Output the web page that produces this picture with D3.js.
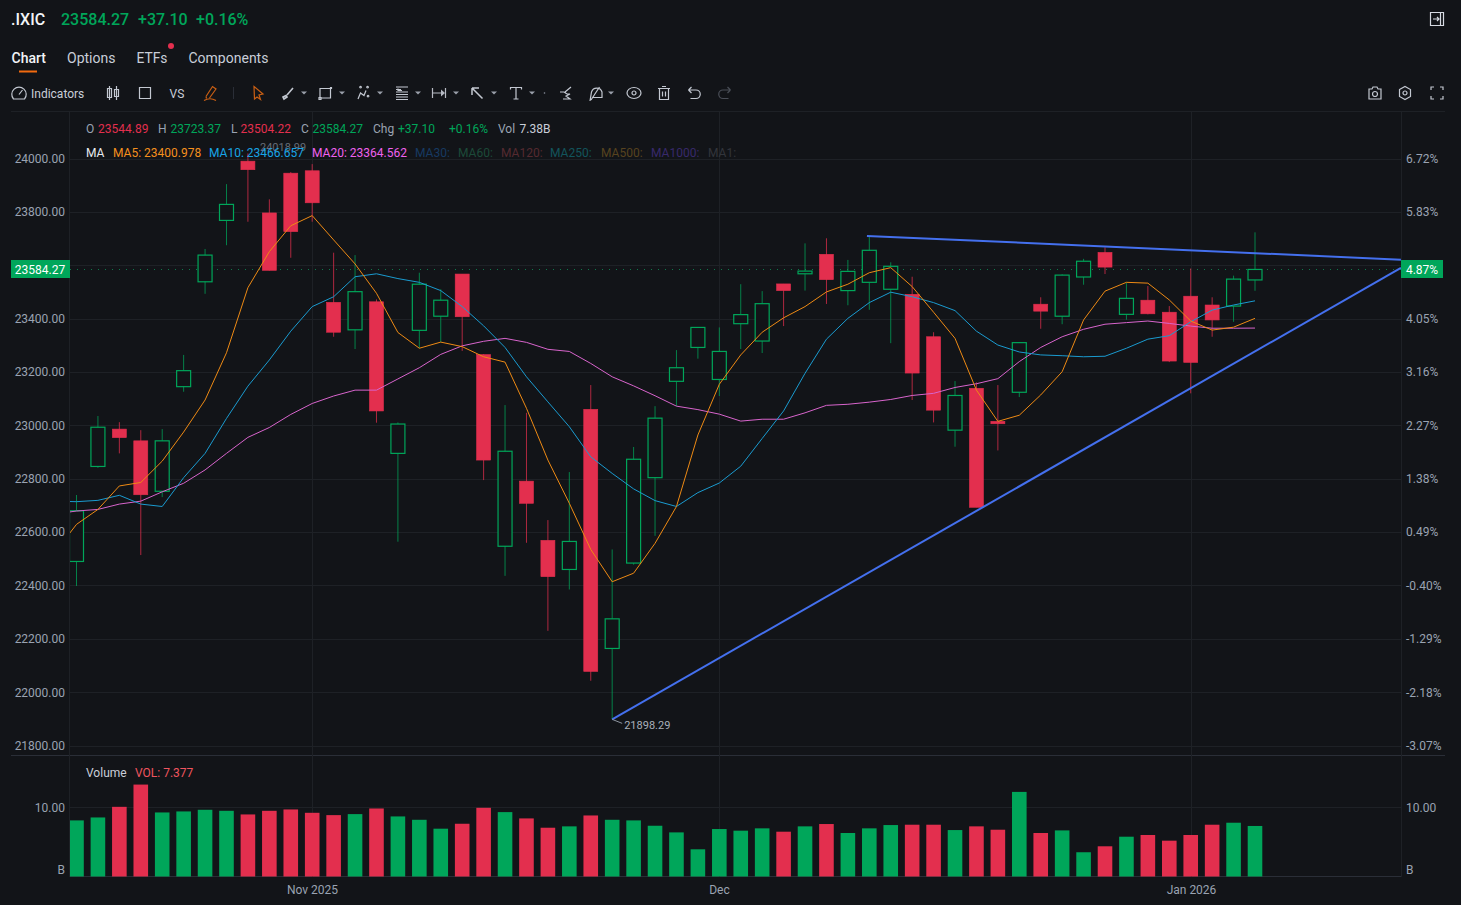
<!DOCTYPE html>
<html>
<head>
<meta charset="utf-8">
<title>.IXIC</title>
<script src="https://cdn.jsdelivr.net/npm/d3@7/dist/d3.min.js"></script>
<style>
  html, body { margin: 0; padding: 0; background: #121418; overflow: hidden; }
  svg { display: block; }
  text { font-family: Roboto, "Noto Sans", sans-serif; }
</style>
</head>
<body>
<svg id="chart" width="1461" height="905"></svg>
<script>
// daily sessions, Oct 17 2025 -> Jan 7 2026
const dates = [
  '2025-10-17','2025-10-20','2025-10-21','2025-10-22','2025-10-23','2025-10-24','2025-10-27','2025-10-28','2025-10-29','2025-10-30','2025-10-31',
  '2025-11-03','2025-11-04','2025-11-05','2025-11-06','2025-11-07','2025-11-10','2025-11-11','2025-11-12','2025-11-13','2025-11-14','2025-11-17','2025-11-18','2025-11-19','2025-11-20','2025-11-21','2025-11-24','2025-11-25','2025-11-26','2025-11-28',
  '2025-12-01','2025-12-02','2025-12-03','2025-12-04','2025-12-05','2025-12-08','2025-12-09','2025-12-10','2025-12-11','2025-12-12','2025-12-15','2025-12-16','2025-12-17','2025-12-18','2025-12-19','2025-12-22','2025-12-23','2025-12-24','2025-12-26','2025-12-29','2025-12-30','2025-12-31',
  '2026-01-02','2026-01-05','2026-01-06','2026-01-07'
];
const opens = [
  22490,22846,22986,22942,22753,23145,23538,23768,23990,23796,23945,23954,23461,23358,23463,22895,23356,23409,23567,23265,22547,22791,22569,22460,
  23060,22164,22484,22804,23165,23292,23172,23381,23316,23530,23568,23641,23505,23536,23510,23491,23332,22982,23139,23015,23124,23454,23409,23556,
  23648,23416,23469,23424,23484,23451,23447,23544.89
];
const closes = [
  22680,22993,22954,22740,22942,23205,23638,23828,23958,23581,23726,23834,23349,23501,23054,23005,23529,23469,23407,22870,22903,22708,22433,22565,
  22078,22275,22873,23027,23216,23367,23277,23415,23456,23505,23578,23546,23577,23656,23596,23196,23057,23112,22693,23006,23310,23428,23563,23615,
  23593,23476,23418,23241,23236,23395,23548,23584.27
];
const highs = [
  22739,23035,23012,22982,22986,23264,23661,23904,24018.99,23847,23949,23979,23647,23638,23472,23011,23572,23510,23567,23267,23076,23047,22645,22825,
  23151,22535,22919,23072,23282,23367,23367,23529,23503,23530,23682,23701,23620,23707,23611,23557,23349,23166,23161,23151,23312,23480,23566,23624,
  23667,23535,23522,23447,23588,23480,23561,23723.37
];
const lows = [
  22398,22841,22895,22514,22731,23126,23493,23675,23763,23580,23628,23763,23332,23286,23010,22564,23289,23312,23279,22795,22436,22560,22230,22385,
  22043,21898.29,22478,22586,23072,23250,23110,23286,23271,23372,23505,23455,23450,23433,23308,23095,23011,22920,22693,22906,23106,23362,23379,23527,
  23567,23396,23416,23237,23120,23332,23388,23504.22
];
const volumes = [
  8.19,8.62,10.17,13.42,9.35,9.50,9.74,9.59,9.06,9.59,9.79,9.30,8.96,9.11,9.93,8.77,8.28,6.98,7.70,10.03,9.40,8.48,7.12,7.32,
  8.91,8.28,8.19,7.41,6.44,3.97,6.93,6.69,7.03,6.54,7.32,7.66,6.35,7.03,7.51,7.56,7.56,6.78,7.32,6.83,12.35,6.35,6.73,3.54,
  4.41,5.81,6.06,5.23,6.06,7.56,7.85,7.377
];
// moving averages start one session before the visible window
const ma5 = [
  22525,22629,22685,22773,22786,22866,22975,23095,23272,23516,23651,23748,23786,23695,23605,23495,23348,23289,23312,23295,23257,23237,23064,22870,22708,
  22535,22414,22446,22558,22696,22964,23154,23264,23349,23403,23445,23500,23529,23572,23591,23520,23424,23326,23132,23015,23038,23114,23201,23395,
  23503,23536,23533,23470,23391,23357,23368,23400.978
];
const ma10 = [
  22716,22714,22719,22738,22705,22696,22804,22895,23026,23147,23245,23353,23445,23482,23557,23568,23550,23536,23505,23445,23373,23292,23182,23088,22995,
  22882,22820,22762,22718,22696,22748,22784,22847,22951,23054,23195,23323,23401,23460,23499,23482,23460,23430,23353,23301,23275,23264,23261,23257,
  23259,23289,23323,23336,23388,23432,23451,23466.657
];
const ma20 = [
  22668,22679,22685,22705,22716,22751,22783,22833,22895,22955,22992,23041,23082,23110,23132,23132,23174,23216,23266,23298,23315,23326,23311,23285,23277,
  23232,23182,23148,23111,23072,23059,23042,23016,23023,23023,23047,23075,23079,23087,23097,23112,23120,23142,23156,23175,23239,23292,23332,23360,
  23379,23385,23391,23382,23372,23364,23364,23364.562
];
const priceTicks = [24000,23800,23600,23400,23200,23000,22800,22600,22400,22200,22000,21800];
// 23600 sits behind the last price tags on both sides
const priceLabels = ['24000.00','23800.00','','23400.00','23200.00','23000.00','22800.00','22600.00','22400.00','22200.00','22000.00','21800.00'];
const percentLabels = ['6.72%','5.83%','','4.05%','3.16%','2.27%','1.38%','0.49%','-0.40%','-1.29%','-2.18%','-3.07%'];
const monthTicks = [
  { date: '2025-11-03', label: 'Nov 2025' },
  { date: '2025-12-01', label: 'Dec' },
  { date: '2026-01-02', label: 'Jan 2026' }
];
// hand drawn trend lines: [session index, price]
const trendTop = [[36.89,23710],[61.81,23621]];
const trendRising = [[25,21898.29],[61.81,23590]];
const lastClose = 23584.27;

const GREEN = '#00a65a', RED = '#e32f4e', GRID = '#1e2126', EDGE = '#2a2e37', AXIS = '#9aa3b2', TEXT = '#c9ced8';
const left = 70, right = 1401;

const svg = d3.select('#chart');

const x = d3.scaleLinear().domain([0, 55]).range([76.5, 1255]);
const y = d3.scaleLinear().domain([21800, 24000]).range([745.6, 158.5]);
const yVol = d3.scaleLinear().domain([0, 10]).range([876.5, 808]);

svg.append('defs').append('clipPath').attr('id', 'plotClip')
  .append('rect').attr('x', left).attr('y', 111).attr('width', right - left).attr('height', 766);

// frame lines
function hline(y0, x0, x1, color) {
  svg.append('line').attr('x1', x0).attr('x2', x1).attr('y1', y0).attr('y2', y0).attr('stroke', color);
}
hline(111.5, 11, 1445, GRID);
hline(755.5, 11, 1445, EDGE);
hline(876.5, left, right, EDGE);
[left - 0.5, right + 0.5].forEach(vx => {
  svg.append('line').attr('x1', vx).attr('x2', vx).attr('y1', 111).attr('y2', 877).attr('stroke', GRID);
});

// month grid
monthTicks.forEach(t => {
  const mx = Math.round(x(dates.indexOf(t.date))) + 0.5;
  svg.append('line').attr('x1', mx).attr('x2', mx).attr('y1', 111).attr('y2', 877).attr('stroke', GRID);
  svg.append('text').attr('x', mx).attr('y', 893.5).attr('text-anchor', 'middle')
    .attr('font-size', 12).attr('fill', AXIS).text(t.label);
});

// price axes
const axisL = svg.append('g').attr('transform', `translate(65,0)`)
  .call(d3.axisLeft(y).tickValues(priceTicks).tickSize(0).tickPadding(0).tickFormat((d, i) => priceLabels[i]));
const axisR = svg.append('g').attr('transform', `translate(1406,0)`)
  .call(d3.axisRight(y).tickValues(priceTicks).tickSize(0).tickPadding(0).tickFormat((d, i) => percentLabels[i]));
[axisL, axisR].forEach(g => {
  g.select('.domain').remove();
  g.selectAll('text').attr('font-size', 12).attr('fill', AXIS).style('font-family', 'Roboto');
});
svg.append('g').selectAll('line').data(priceTicks).join('line')
  .attr('x1', left).attr('x2', right)
  .attr('y1', d => Math.round(y(d)) + 0.5).attr('y2', d => Math.round(y(d)) + 0.5)
  .attr('stroke', GRID);

// volume axes
const volL = svg.append('g').attr('transform', `translate(65,0)`)
  .call(d3.axisLeft(yVol).tickValues([10]).tickSize(0).tickPadding(0).tickFormat(d3.format('.2f')));
const volR = svg.append('g').attr('transform', `translate(1406,0)`)
  .call(d3.axisRight(yVol).tickValues([10]).tickSize(0).tickPadding(0).tickFormat(d3.format('.2f')));
[volL, volR].forEach(g => {
  g.select('.domain').remove();
  g.selectAll('text').attr('font-size', 12).attr('fill', AXIS).style('font-family', 'Roboto');
});
hline(807.5, left, right, GRID);
svg.append('text').attr('x', 65).attr('y', 874).attr('text-anchor', 'end').attr('font-size', 12).attr('fill', AXIS).text('B');
svg.append('text').attr('x', 1406).attr('y', 874).attr('font-size', 12).attr('fill', AXIS).text('B');

const plot = svg.append('g').attr('clip-path', 'url(#plotClip)');

// last price dotted line
plot.append('line').attr('x1', left).attr('x2', right)
  .attr('y1', Math.round(y(lastClose)) + 0.5).attr('y2', Math.round(y(lastClose)) + 0.5)
  .attr('stroke', '#0f7a4c').attr('stroke-dasharray', '1 6');

// volume bars
plot.append('g').selectAll('rect').data(volumes).join('rect')
  .attr('x', (d, i) => x(i) - 7.3).attr('width', 14.6)
  .attr('y', d => yVol(d)).attr('height', d => yVol(0) - yVol(d))
  .attr('fill', (d, i) => closes[i] >= opens[i] ? GREEN : RED);

// candles
const candles = plot.append('g').selectAll('g').data(dates).join('g');
candles.append('line')
  .attr('x1', (d, i) => x(i)).attr('x2', (d, i) => x(i))
  .attr('y1', (d, i) => y(highs[i])).attr('y2', (d, i) => y(lows[i]))
  .attr('stroke', (d, i) => closes[i] >= opens[i] ? GREEN : RED)
  .attr('stroke-opacity', 0.75).attr('stroke-width', 1);
candles.append('rect')
  .attr('x', (d, i) => x(i) - 7).attr('width', 14)
  .attr('y', (d, i) => y(Math.max(opens[i], closes[i])))
  .attr('height', (d, i) => Math.abs(y(opens[i]) - y(closes[i])))
  .attr('fill', (d, i) => closes[i] >= opens[i] ? '#121418' : RED)
  .attr('stroke', (d, i) => closes[i] >= opens[i] ? GREEN : RED)
  .attr('stroke-width', (d, i) => closes[i] >= opens[i] ? 1.2 : 0.6);

// moving averages
const maLine = d3.line().x((d, i) => x(i - 1)).y(d => y(d));
[[ma20, '#d864cc'], [ma10, '#1a9bd0'], [ma5, '#ee8a14']].forEach(([vals, color]) => {
  plot.append('path').attr('d', maLine(vals)).attr('fill', 'none').attr('stroke', color).attr('stroke-width', 1);
});

// trend lines
const trendLine = d3.line().x(d => x(d[0])).y(d => y(d[1]));
[trendTop, trendRising].forEach(t => {
  plot.append('path').attr('d', trendLine(t)).attr('fill', 'none').attr('stroke', '#4470ee').attr('stroke-width', 2);
});

// high / low callouts
svg.append('line').attr('x1', x(25)).attr('x2', x(25) + 10).attr('y1', y(21898.29)).attr('y2', y(21898.29) + 4).attr('stroke', '#8d94a0');
svg.append('text').attr('x', x(25) + 12).attr('y', y(21898.29) + 9.5).attr('font-size', 11).attr('fill', '#a9afba').text('21898.29');
svg.append('text').attr('x', 260).attr('y', 151).attr('font-size', 11).attr('fill', '#666c77').text('24018.99');

// last price tags
svg.append('rect').attr('x', 11).attr('y', 260).attr('width', 59).attr('height', 18).attr('fill', GREEN);
svg.append('text').attr('x', 40).attr('y', 273.5).attr('text-anchor', 'middle').attr('font-size', 12).attr('fill', '#fff').text('23584.27');
svg.append('rect').attr('x', 1401).attr('y', 260).attr('width', 42).attr('height', 18).attr('fill', GREEN);
svg.append('text').attr('x', 1422).attr('y', 273.5).attr('text-anchor', 'middle').attr('font-size', 12).attr('fill', '#fff').text('4.87%');

// small helper for placed text runs
function label(tx, ty, str, color, size, weight) {
  svg.append('text').attr('x', tx).attr('y', ty).attr('font-size', size || 12)
    .attr('font-weight', weight || 400).attr('fill', color).text(str);
}

// quote header
label(11, 25, '.IXIC', '#f2f4f7', 16, 500);
label(61, 25, '23584.27', GREEN, 16, 500);
label(138, 25, '+37.10', GREEN, 16, 500);
label(196, 25, '+0.16%', GREEN, 16, 500);

// tabs
label(11.5, 63, 'Chart', '#f2f4f7', 14, 500);
label(67, 63, 'Options', TEXT, 14);
label(136.5, 63, 'ETFs', TEXT, 13.8);
label(188.5, 63, 'Components', TEXT, 14);
svg.append('circle').attr('cx', 171).attr('cy', 46).attr('r', 3).attr('fill', RED);
svg.append('rect').attr('x', 19).attr('y', 70.5).attr('width', 18).attr('height', 2).attr('fill', '#f26a0f');

// OHLC row
label(86, 133, 'O', AXIS);
label(98, 133, '23544.89', RED);
label(158, 133, 'H', AXIS);
label(170.5, 133, '23723.37', GREEN);
label(231, 133, 'L', AXIS);
label(240.5, 133, '23504.22', RED);
label(301, 133, 'C', AXIS);
label(312.5, 133, '23584.27', GREEN);
label(373, 133, 'Chg', AXIS);
label(398, 133, '+37.10', GREEN);
label(449, 133, '+0.16%', GREEN);
label(498, 133, 'Vol', AXIS);
label(519.5, 133, '7.38B', TEXT);

// MA row
label(86, 157, 'MA', '#e6e9ee');
label(113, 157, 'MA5: 23400.978', '#f5901e');
label(209, 157, 'MA10: 23466.657', '#18a5e6');
label(312, 157, 'MA20: 23364.562', '#ee62ee');
label(415, 157, 'MA30:', '#173a62');
label(458, 157, 'MA60:', '#1c4a39');
label(501, 157, 'MA120:', '#552a30');
label(550, 157, 'MA250:', '#12545c');
label(601, 157, 'MA500:', '#57431f');
label(651, 157, 'MA1000:', '#38296b');
label(708, 157, 'MA1:', '#32353b');

// volume legend
label(86, 777, 'Volume', TEXT);
label(135, 777, 'VOL: 7.377', '#f0555f');

// toolbar
label(31, 97.5, 'Indicators', TEXT);
label(169.5, 97.5, 'VS', TEXT);

function icon(cx, cy, d, color, width) {
  svg.append('path').attr('transform', `translate(${cx},${cy})`).attr('d', d)
    .attr('fill', 'none').attr('stroke', color || '#c3c8d1').attr('stroke-width', width || 1.2);
}
function caret(cx) {
  svg.append('path').attr('transform', `translate(${cx},93)`).attr('d', 'M-3,-1.5L3,-1.5L0,1.5Z').attr('fill', '#9aa0aa');
}
icon(19, 93, 'M-5.5,6A7.2,7.2 0 1 1 5.5,6Z M0,1.5L3.5,-3');
icon(113, 93, 'M-3.5,-7V7M-5.5,-4.5H-1.5V4.5H-5.5Z M3.5,-7V7M1.5,-3.5H5.5V3.5H1.5Z');
icon(145, 93, 'M-5.5,-5.5H5.5V5.5H-5.5Z');
icon(210, 93, 'M-4,3.5L2.5,-6.5L6,-4L-0.5,5 M-4,3.5L-3.5,5.5M-6,7.5Q0,4 6,7.5', '#c95f14');
svg.append('line').attr('x1', 233.5).attr('x2', 233.5).attr('y1', 87).attr('y2', 99).attr('stroke', '#2a2e37');
icon(258, 93, 'M-4,-6.5L5,1L1,2L2.5,6.5L-1,4L-3.5,6Z', '#c95f14');
icon(288, 93, 'M-5,4L-2,2.5L-1,4L-4,6Z M-1,2L5,-5', '#c3c8d1', 1.6);
caret(304);
icon(325, 93, 'M-5,-4.5H5.5V-5.5H6.5V-4.5H5.5V5H-5V-4.5Z M-6,4.5H-4V6.5H-6Z');
caret(342);
icon(363, 93, 'M-5,6L-2.5,0L1,2.5L3,-2.5M-2.5,-5A.8,.8 0 1 1 -2.4,-5M4.5,-5A.8,.8 0 1 1 4.6,-5M5,4A.8,.8 0 1 1 5.1,4');
caret(380);
icon(402, 93, 'M-6,-6H6M-6,-3.5H-1M-6,-1H6M-6,1.5H6M-6,4H6M-6,6.5H6M-4,-4.5V-2.5H0');
caret(418);
icon(439, 93, 'M-6.5,-5V5M6.5,-5V5M-6.5,0H3', '#b6bac3');
svg.append('path').attr('transform', 'translate(439,93)').attr('d', 'M2,-3.5L6,0L2,3.5Z').attr('fill', '#b6bac3');
caret(456);
icon(477, 93, 'M-5,-5L5.5,5.5M-5,-5H2M-5,-5V2', '#c3c8d1', 1.5);
caret(494);
icon(516, 93, 'M-5.5,-3.5V-5.5H5.5V-3.5M0,-5.5V6M-2.5,6H2.5');
caret(532);
svg.append('circle').attr('cx', 544.5).attr('cy', 93).attr('r', 0.8).attr('fill', '#8d94a0');
icon(565, 93, 'M-5,-1L-1,-1L2,1H5L1,3L5,6H-2M6,-6L0,-1');
icon(596, 93, 'M-6,8L-4.5,-1A5.5,5.5 0 0 1 6,-1V4.5H-3.5M-5,7L3.5,-6');
caret(611);
icon(634, 93, 'M-7,0A7,5.5 0 0 1 7,0A7,5.5 0 0 1 -7,0M2,0A2,2 0 1 1 -2,0A2,2 0 1 1 2,0');
icon(664, 93, 'M-6,-4.5H6M-4.5,-4.5V6.5H4.5V-4.5M-2,-6.5H2M-1.5,-1.5V3.5M1.5,-1.5V3.5');
icon(694, 93, 'M-5.5,-3H2A4,4 0 0 1 2,5.5H-3.5M-5.5,-3L-2.5,-6M-5.5,-3L-2.5,0');
icon(725, 93, 'M5.5,-3H-2A4,4 0 0 0 -2,5.5H3.5M5.5,-3L2.5,-6M5.5,-3L2.5,0', '#4a4e57');
icon(1375, 93, 'M-6,-4H-3L-2,-6H2L3,-4H6V6H-6ZM2.5,1A2.5,2.5 0 1 1 -2.5,1A2.5,2.5 0 1 1 2.5,1');
icon(1405, 93, 'M-5.5,-3.5L0,-6.5L5.5,-3.5V3.5L0,6.5L-5.5,3.5ZM2,0A2,2 0 1 1 -2,0A2,2 0 1 1 2,0');
icon(1437, 93, 'M-6,-3V-6H-3M3,-6H6V-3M6,3V6H3M-3,6H-6V3');
icon(1437, 19, 'M-6.5,-6.5H6.5V6.5H-6.5ZM3.5,-6.5V6.5M-4,0H2M0,-2L2,0L0,2', '#d6dae2');
</script>
</body>
</html>
